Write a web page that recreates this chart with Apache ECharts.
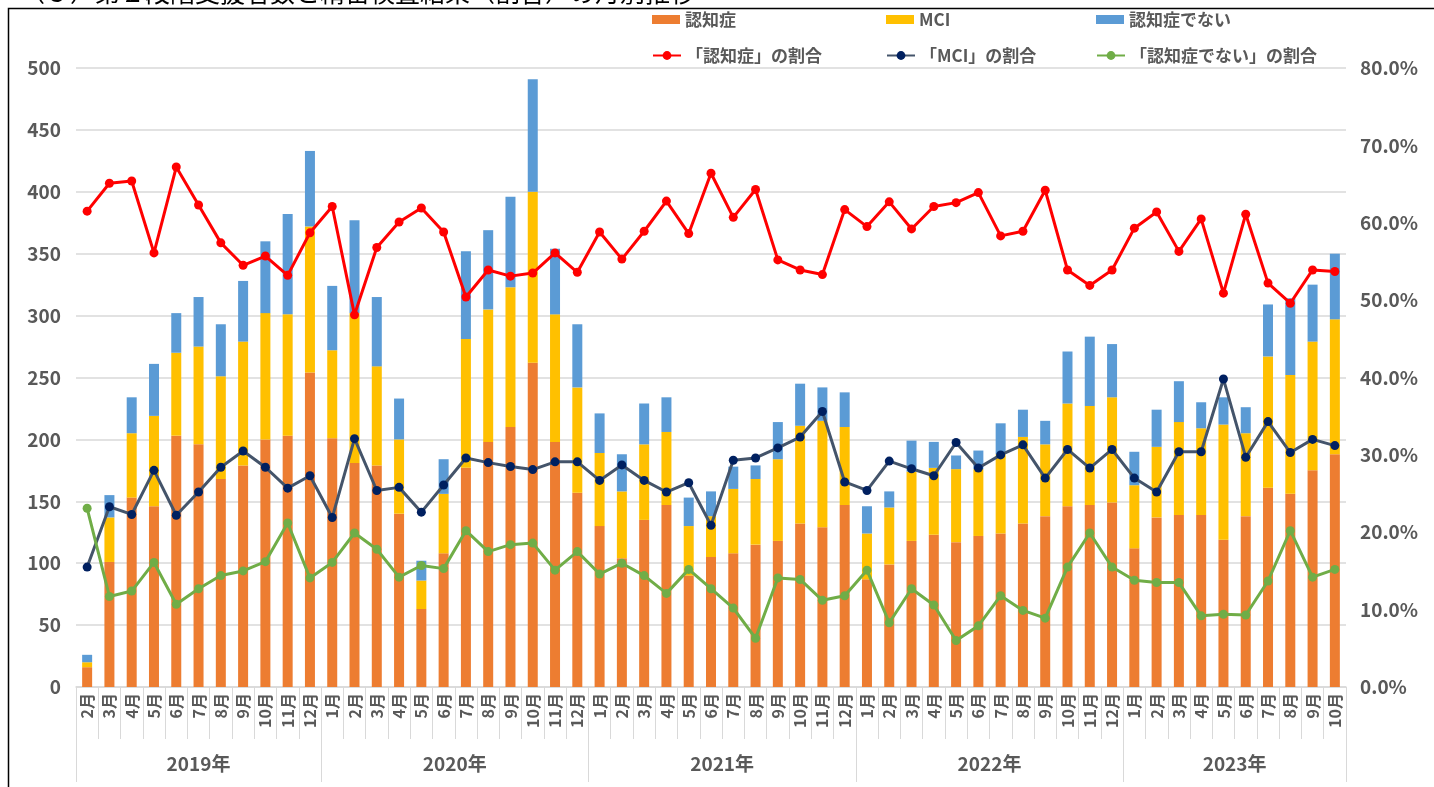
<!DOCTYPE html>
<html lang="ja">
<head>
<meta charset="UTF-8">
<title>第２段階支援者数と精密検査結果の月別推移</title>
<style>
  html, body { margin: 0; padding: 0; background: #fff; }
  #chart { width: 1434px; height: 787px; }
</style>
</head>
<body>
<div id="chart"></div>
<script src="https://cdn.jsdelivr.net/npm/echarts@6/dist/echarts.min.js"></script>
<script>
// 年ごとの月（2019年2月〜2023年10月）
var years = ['2019年', '2020年', '2021年', '2022年', '2023年'];
var firstMonth = [2, 1, 1, 1, 1];
var lastMonth = [12, 12, 12, 12, 10];

// 人数（棒）
var ninchi = [16,101,153,146,203,196,168,179,200,203,254, 201,181,179,140,63,108,177,198,210,262,198,157, 130,104,135,147,90,105,108,115,118,132,129,147, 87,99,118,123,117,122,124,132,138,146,147,149, 112,137,139,139,119,138,161,156,175,188];
var mci = [4,36,52,73,67,79,83,100,102,98,118, 71,121,80,60,23,48,104,107,113,138,103,85, 59,54,61,59,40,33,52,53,66,79,86,63, 37,46,56,54,59,54,64,70,58,83,80,85, 51,57,75,70,93,67,106,96,104,109];
var notNinchi = [6,18,29,42,32,40,42,49,58,81,61, 52,75,56,33,16,28,71,64,73,91,53,51, 32,30,33,28,23,20,18,11,30,34,27,28, 22,13,25,21,11,15,25,22,19,42,56,43, 27,30,33,21,22,21,42,62,46,53];

// 割合（折れ線, %）
var rNinchi = [61.5,65.1,65.4,56.1,67.2,62.3,57.4,54.5,55.7,53.2,58.7, 62.1,48.1,56.8,60.1,61.9,58.8,50.4,53.9,53.1,53.5,56.1,53.6, 58.8,55.3,58.9,62.8,58.6,66.4,60.7,64.3,55.2,53.9,53.3,61.7, 59.5,62.7,59.2,62.1,62.6,63.9,58.3,58.9,64.2,53.9,51.9,53.9, 59.3,61.4,56.3,60.5,50.9,61.1,52.2,49.6,53.9,53.7];
var rMci = [15.5,23.3,22.3,28.0,22.2,25.2,28.4,30.5,28.4,25.7,27.3, 21.9,32.1,25.4,25.8,22.6,26.1,29.6,29.0,28.5,28.1,29.1,29.1, 26.7,28.7,26.7,25.2,26.4,20.9,29.3,29.6,30.9,32.3,35.6,26.5, 25.4,29.2,28.2,27.3,31.6,28.3,30.0,31.3,27.0,30.7,28.3,30.7, 27.0,25.2,30.4,30.4,39.8,29.7,34.3,30.3,32.0,31.2];
var rNot = [23.1,11.7,12.4,16.1,10.7,12.7,14.4,15.0,16.2,21.2,14.1, 16.1,19.9,17.8,14.2,15.7,15.3,20.2,17.5,18.4,18.6,15.1,17.5, 14.6,16.0,14.4,12.1,15.2,12.7,10.2,6.3,14.1,13.9,11.2,11.8, 15.1,8.3,12.7,10.6,6.0,7.9,11.8,9.9,8.9,15.5,19.9,15.5, 13.8,13.5,13.5,9.2,9.4,9.3,13.7,20.2,14.2,15.2];

// 月ラベルと年の区切り
var months = [];
var yearBounds = [0];
var yearMids = {};
for (var i = 0; i < years.length; i++) {
  var start = months.length;
  for (var m = firstMonth[i]; m <= lastMonth[i]; m++) months.push(m + '月');
  yearBounds.push(months.length);
  yearMids[(start + months.length) / 2] = years[i];
}

var font = '"Noto Sans CJK JP", "Noto Sans", sans-serif';
var grey = '#595959';
var gridColor = '#D9D9D9';

var chart = echarts.init(document.getElementById('chart'));

// 凡例は列ごとに配置
var legendItems = [
  ['認知症', 652, 11, 'rect'],
  ['MCI', 886, 11, 'rect'],
  ['認知症でない', 1096, 11, 'rect'],
  ['「認知症」の割合', 652, 47, null],
  ['「MCI」の割合', 886, 47, null],
  ['「認知症でない」の割合', 1096, 47, null]
];
var legends = legendItems.map(function (it) {
  var item = { name: it[0] };
  if (it[3]) item.icon = it[3];
  return {
    data: [item],
    left: it[1],
    top: it[2],
    itemWidth: 28,
    itemHeight: it[3] ? 9 : 11,
    itemGap: 4,
    padding: 0,
    textStyle: { color: grey, fontSize: 17, fontWeight: 'bold', fontFamily: font }
  };
});

function lineSeries(name, data, lineColor, dotColor) {
  return {
    name: name,
    type: 'line',
    yAxisIndex: 1,
    data: data,
    symbol: 'circle',
    symbolSize: 9,
    z: 5,
    lineStyle: { color: lineColor, width: 3 },
    itemStyle: { color: dotColor },
    emphasis: { disabled: true }
  };
}

function barSeries(name, data, color) {
  return {
    name: name,
    type: 'bar',
    stack: 'total',
    data: data,
    barWidth: 10,
    itemStyle: { color: color },
    emphasis: { disabled: true }
  };
}

var option = {
  animation: false,
  textStyle: { fontFamily: font },
  legend: legends,
  graphic: [
    {
      type: 'text',
      left: 20,
      top: -20,
      style: {
        text: '（５）第２段階支援者数と精密検査結果（割合）の月別推移',
        font: '25px ' + font,
        fill: '#000'
      }
    },
    {
      type: 'rect',
      left: 6,
      top: 6,
      shape: { width: 1500, height: 900 },
      style: { fill: 'none', stroke: '#000', lineWidth: 1.5 }
    }
  ],
  grid: { left: 76, right: 88, top: 68, bottom: 100, containLabel: false },
  xAxis: [
    {
      type: 'category',
      data: months,
      boundaryGap: true,
      axisLine: { lineStyle: { color: gridColor, width: 1.5 } },
      axisTick: { show: true, interval: 0, length: 52, lineStyle: { color: gridColor } },
      axisLabel: { interval: 0, rotate: 90, color: grey, fontSize: 16, fontWeight: 'bold', margin: 6 }
    },
    {
      type: 'value',
      min: 0,
      max: months.length,
      position: 'bottom',
      axisLine: { show: false },
      splitLine: { show: false },
      axisTick: { show: true, customValues: yearBounds, length: 95, lineStyle: { color: gridColor } },
      axisLabel: {
        customValues: Object.keys(yearMids).map(Number),
        formatter: function (v) { return yearMids[v] || ''; },
        color: grey,
        fontSize: 19,
        fontWeight: 'bold',
        margin: 67
      }
    }
  ],
  yAxis: [
    {
      type: 'value',
      min: 0,
      max: 500,
      interval: 50,
      axisLine: { show: false },
      axisTick: { show: false },
      splitLine: { lineStyle: { color: gridColor, width: 1.5 } },
      axisLabel: { color: grey, fontSize: 19, fontWeight: 'bold', margin: 15 }
    },
    {
      type: 'value',
      min: 0,
      max: 80,
      interval: 10,
      axisLine: { show: false },
      axisTick: { show: false },
      splitLine: { show: false },
      axisLabel: {
        color: grey,
        fontSize: 19,
        fontWeight: 'bold',
        margin: 14,
        formatter: function (v) { return v.toFixed(1) + '%'; }
      }
    }
  ],
  series: [
    barSeries('認知症', ninchi, '#ED7D31'),
    barSeries('MCI', mci, '#FFC000'),
    barSeries('認知症でない', notNinchi, '#5B9BD5'),
    lineSeries('「認知症」の割合', rNinchi, '#FF0000', '#FF0000'),
    lineSeries('「MCI」の割合', rMci, '#44546A', '#002060'),
    lineSeries('「認知症でない」の割合', rNot, '#70AD47', '#70AD47')
  ]
};

chart.setOption(option);
</script>
</body>
</html>
